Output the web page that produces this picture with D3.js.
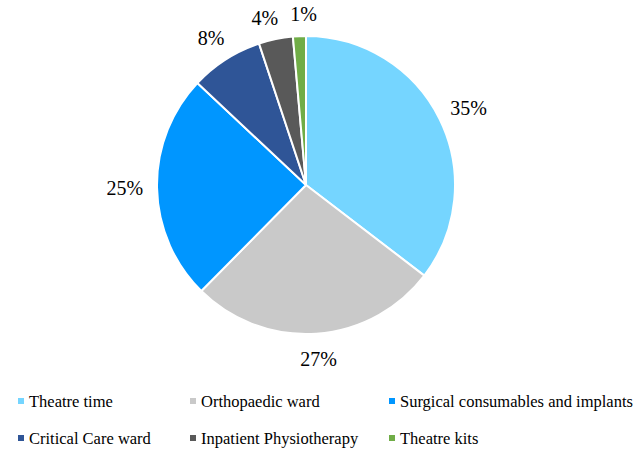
<!DOCTYPE html>
<html>
<head>
<meta charset="utf-8">
<script src="https://cdn.jsdelivr.net/npm/d3@7"></script>
<style>
  body { margin: 0; background: #fff; }
  svg text { font-family: "Times New Roman", Tinos, "Liberation Serif", "DejaVu Serif", serif; }
</style>
</head>
<body>
<script>
// Chart data
const categories = ['Theatre time', 'Orthopaedic ward', 'Surgical consumables and implants',
  'Critical Care ward', 'Inpatient Physiotherapy', 'Theatre kits'];
const shares = [35.4, 27.0, 24.6, 7.9, 3.7, 1.4];
const colors = ['#75D5FF', '#C9C9C9', '#0096FF', '#2F5597', '#595959', '#70AD47'];

const width = 636;
const height = 450;
const cx = 306, cy = 185, radius = 149;

const svg = d3.select('body')
  .append('svg')
  .attr('width', width)
  .attr('height', height);

const data = categories.map((c, i) => ({ category: c, value: shares[i], color: colors[i] }));

const pie = d3.pie()
  .value(d => d.value)
  .sort(null);

const arc = d3.arc()
  .innerRadius(0)
  .outerRadius(radius);

const arcs = pie(data);

const g = svg.append('g')
  .attr('transform', `translate(${cx}, ${cy})`);

g.selectAll('path')
  .data(arcs)
  .enter()
  .append('path')
  .attr('d', arc)
  .attr('fill', d => d.data.color)
  .attr('stroke', '#fff')
  .attr('stroke-width', 2)
  .attr('stroke-linejoin', 'round');

// Percentage labels outside the pie
const labelR = radius + 14;
const labels = g.selectAll('text.pct')
  .data(arcs)
  .enter()
  .append('text')
  .attr('class', 'pct')
  .style('font-size', '20px')
  .attr('text-anchor', 'middle')
  .attr('dominant-baseline', 'central')
  .text(d => Math.round(d.data.value) + '%')
  .each(function (d) {
    const a = (d.startAngle + d.endAngle) / 2;
    const sx = Math.sin(a), sy = -Math.cos(a);
    const bb = this.getBBox();
    d.lw = bb.width;
    d.lx = sx * labelR + sx * bb.width / 2;
    d.ly = sy * labelR + sy * bb.height / 2;
  });

// push apart labels that crowd each other near the top
const topLabels = arcs.filter(d => d.ly < -120).sort((a, b) => a.lx - b.lx);
for (let i = 1; i < topLabels.length; i++) {
  const a = topLabels[i - 1], b = topLabels[i];
  const need = (a.lw + b.lw) / 2 + 12 - (b.lx - a.lx);
  if (need > 0) {
    a.lx -= need / 2;
    b.lx += need / 2;
    a.ly += 3;
    b.ly += 3;
  }
}

labels.attr('x', d => d.lx).attr('y', d => d.ly);

// Legend
const legendX = [18, 190, 389];
const legendY = [401, 438];
const legend = svg.selectAll('g.legend')
  .data(data)
  .enter()
  .append('g')
  .attr('class', 'legend')
  .attr('transform', (d, i) => `translate(${legendX[i % 3]}, ${legendY[Math.floor(i / 3)]})`);

legend.append('rect')
  .attr('x', 0)
  .attr('y', -3)
  .attr('width', 6)
  .attr('height', 6)
  .attr('fill', d => d.color);

legend.append('text')
  .attr('x', 11)
  .attr('y', 0)
  .attr('dominant-baseline', 'central')
  .style('font-size', '16.5px')
  .text(d => d.category);
</script>
</body>
</html>
